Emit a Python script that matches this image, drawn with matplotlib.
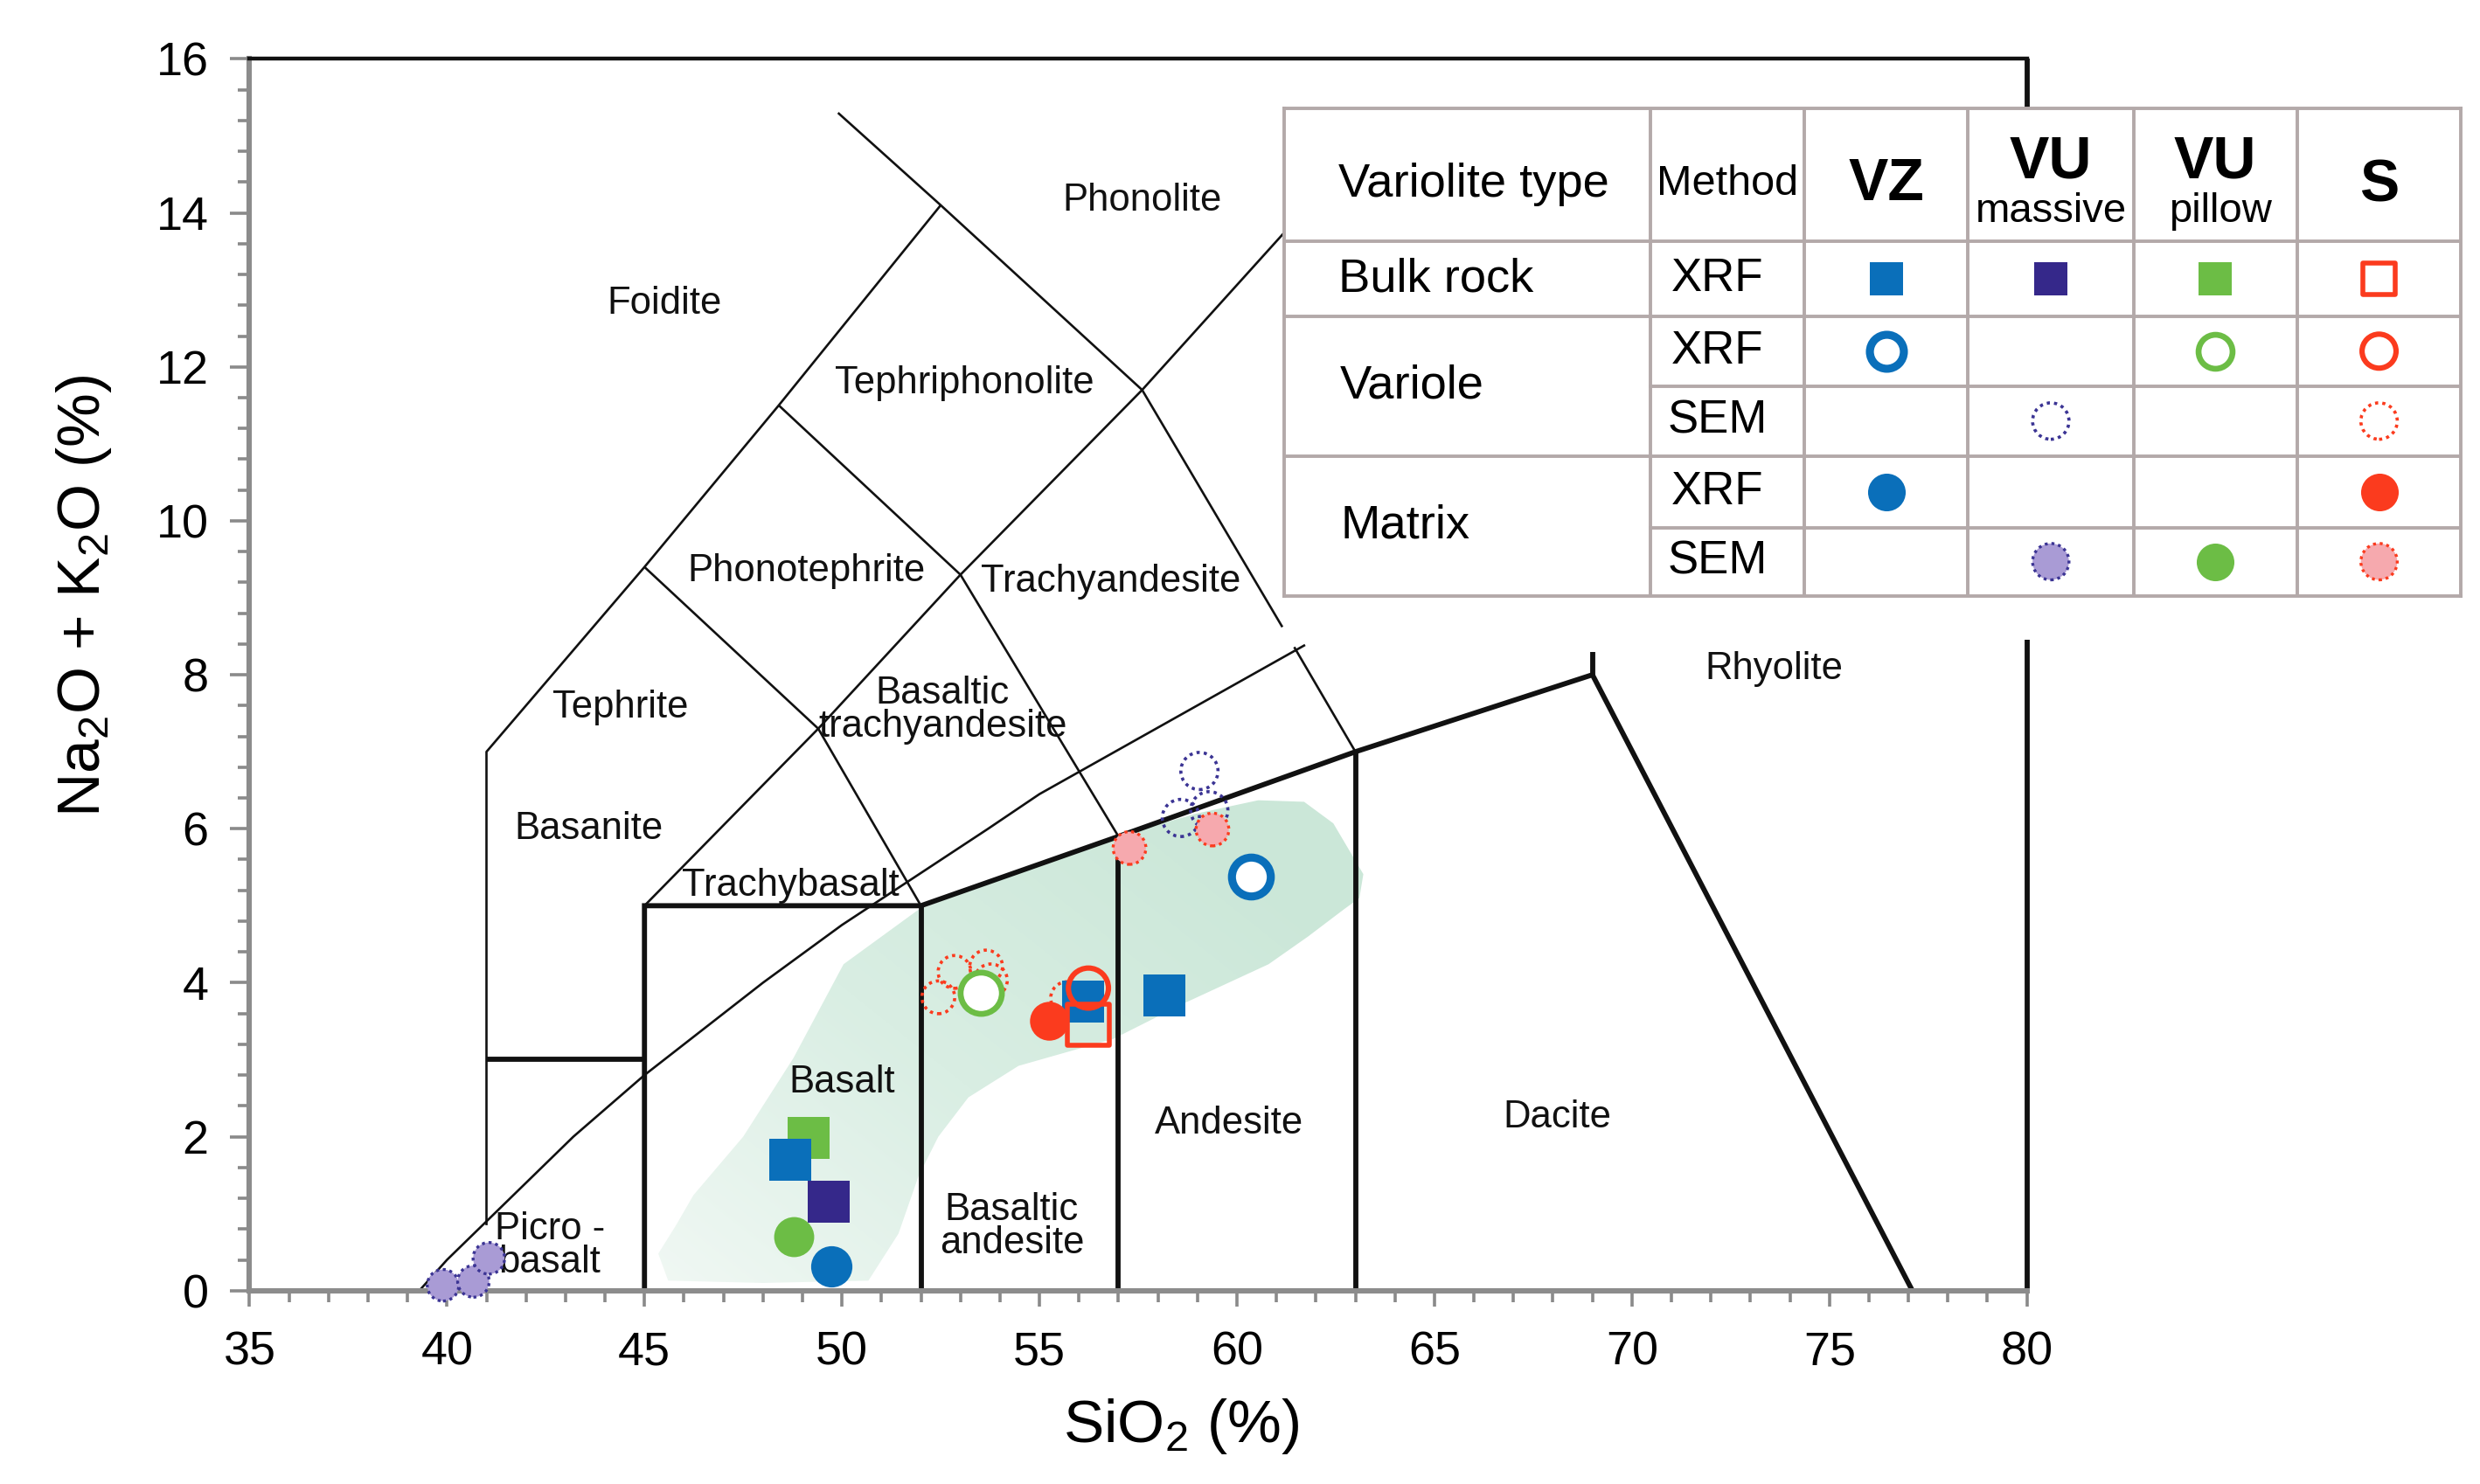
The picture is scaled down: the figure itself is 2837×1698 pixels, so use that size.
import numpy as np
import matplotlib
matplotlib.use('Agg')
import matplotlib.pyplot as plt
from matplotlib.patches import Polygon
from matplotlib.colors import LinearSegmentedColormap
from matplotlib.ticker import MultipleLocator

plt.rcParams['font.family'] = ['Liberation Sans', 'DejaVu Sans']
plt.rcParams['mathtext.default'] = 'regular'

# ---- TAS field boundaries (SiO2 %, Na2O+K2O %) ----
thin_lines = [
    [(41, 0.85), (41, 7.0), (45, 9.4), (48.4, 11.5), (52.5, 14.1)],
    [(49.9, 15.3), (52.5, 14.1), (57.6, 11.7)],
    [(57.6, 11.7), (62.0, 14.2)],
    [(57.6, 11.7), (61.15, 8.62)],
    [(61.45, 8.36), (63, 7.0)],
    [(45, 9.4), (49.4, 7.3), (52, 5.0)],
    [(45, 5.0), (49.4, 7.3), (53, 9.3), (57.6, 11.7)],
    [(48.4, 11.5), (53, 9.3), (57, 5.9)],
]
thick_lines = [
    [(41, 3), (45, 3)],
    [(45, 0), (45, 5), (52, 5), (57, 5.9), (63, 7), (69, 8), (77.1, 0)],
    [(52, 0), (52, 5)],
    [(57, 0), (57, 5.9)],
    [(63, 0), (63, 7)],
    [(69, 8), (69, 8.3)],
    [(80, 0), (80, 8.45)],
    [(80, 14.5), (80, 16)],
]
# alkaline / subalkaline divide
ib_sio2 = [39.3, 40, 43.2, 45, 48, 50, 53.7, 55, 61.7]
ib_alk = [0, 0.4, 2.0, 2.8, 4.0, 4.75, 6.0, 6.45, 8.38]

field_names = ['Foidite', 'Phonolite', 'Tephriphonolite', 'Phonotephrite', 'Trachyandesite',
               'Tephrite', 'Basaltic\ntrachyandesite', 'Basanite', 'Trachybasalt', 'Rhyolite',
               'Basalt', 'Andesite', 'Dacite', 'Basaltic\nandesite', 'Picro -\nbasalt']
field_pos = [(45.5, 12.82), (57.6, 14.16), (53.1, 11.79), (49.1, 9.35), (56.8, 9.21),
             (44.4, 7.57), (52.55, 7.54), (43.6, 6.0), (48.7, 5.26), (73.6, 8.07),
             (50.0, 2.70), (59.8, 2.17), (68.1, 2.25), (54.3, 0.83), (42.6, 0.58)]

# shaded field of the samples
blob_sio2 = [51.94, 54.5, 57.0, 59.0, 60.54, 61.7, 62.44, 63.2, 63.1, 62.7, 61.8, 60.8, 58.65,
             56.87, 54.47, 53.2, 52.44, 51.94, 51.43, 50.67, 48.0, 45.6, 45.35, 45.8, 46.24,
             47.5, 48.77, 50.04]
blob_alk = [4.95, 5.45, 5.91, 6.2, 6.37, 6.35, 6.07, 5.41, 5.1, 4.95, 4.6, 4.24, 3.73,
            3.27, 2.92, 2.51, 2.0, 1.49, 0.74, 0.13, 0.1, 0.13, 0.48, 0.85, 1.24,
            2.0, 3.02, 4.24]

# ---- samples ----
bulk_vz_x, bulk_vz_y = [58.17, 56.1, 48.7], [3.83, 3.75, 1.70]
bulk_vum_x, bulk_vum_y = [49.66], [1.15]
bulk_vup_x, bulk_vup_y = [49.15], [1.98]
bulk_s_x, bulk_s_y = [56.24], [3.45]
var_xrf_vz_x, var_xrf_vz_y = [60.35], [5.38]
var_xrf_vup_x, var_xrf_vup_y = [53.52], [3.87]
var_xrf_s_x, var_xrf_s_y = [56.24], [3.93]
var_sem_vum_x, var_sem_vum_y = [59.05, 58.58, 59.3], [6.75, 6.14, 6.24]
var_sem_s_x, var_sem_s_y = [52.44, 52.85, 53.65, 53.77, 55.7], [3.81, 4.14, 4.21, 4.03, 3.8]
mat_xrf_vz_x, mat_xrf_vz_y = [49.72], [0.31]
mat_xrf_s_x, mat_xrf_s_y = [55.25], [3.50]
mat_sem_vum_x, mat_sem_vum_y = [39.9, 40.67, 41.06], [0.07, 0.12, 0.42]
mat_sem_vup_x, mat_sem_vup_y = [48.77], [0.70]
mat_sem_s_x, mat_sem_s_y = [57.28, 59.38], [5.75, 5.99]

BLUE = '#0a6fba'
PURP = '#35288a'
GREEN = '#6cbd45'
RED = '#fb3b1e'
PINK = '#f6a9ae'
LPURP = '#a99bd5'
DOT = (0, (1, 1.3))

# (x, y, marker, size, face, edge, lw, ls, table row, table col, table size)
series = [
    (var_sem_s_x, var_sem_s_y, 'o', 13.5, 'none', RED, 1.3, DOT, 2, 3, 15),
    (bulk_vup_x, bulk_vup_y, 's', 17, GREEN, GREEN, 0, '-', 0, 2, 13.5),
    (bulk_vz_x, bulk_vz_y, 's', 17, BLUE, BLUE, 0, '-', 0, 0, 13.5),
    (bulk_vum_x, bulk_vum_y, 's', 17, PURP, PURP, 0, '-', 0, 1, 13.5),
    (mat_sem_vup_x, mat_sem_vup_y, 'o', 16.5, GREEN, GREEN, 0, '-', 4, 2, 15.5),
    (mat_xrf_vz_x, mat_xrf_vz_y, 'o', 17, BLUE, BLUE, 0, '-', 3, 0, 15.5),
    (mat_xrf_s_x, mat_xrf_s_y, 'o', 16, RED, RED, 0, '-', 3, 3, 15.5),
    (bulk_s_x, bulk_s_y, 's', 17, 'none', RED, 2.0, '-', 0, 3, 13),
    (var_xrf_s_x, var_xrf_s_y, 'o', 16.5, 'none', RED, 2.2, '-', 1, 3, 14),
    (var_xrf_vup_x, var_xrf_vup_y, 'o', 17, 'white', GREEN, 2.4, '-', 1, 2, 14),
    (var_sem_vum_x, var_sem_vum_y, 'o', 15.3, 'none', '#3b3494', 1.3, DOT, 2, 1, 15),
    (mat_sem_s_x, mat_sem_s_y, 'o', 13.5, PINK, RED, 1.2, DOT, 4, 3, 15),
    (var_xrf_vz_x, var_xrf_vz_y, 'o', 16, 'white', BLUE, 3.3, '-', 1, 0, 14),
    (mat_sem_vum_x, mat_sem_vum_y, 'o', 13, LPURP, '#3b3494', 1.2, DOT, 4, 1, 15),
]

fig = plt.figure(figsize=(2837 / 200, 1698 / 200), dpi=200)
ax = fig.add_axes([0.1006, 0.1303, 0.7167, 0.8300])
ax.set_xlim(35, 80)
ax.set_ylim(0, 16)

# shaded sample field with a soft gradient
blob = Polygon(np.column_stack([blob_sio2, blob_alk]), closed=True, facecolor='none',
               edgecolor='none')
ax.add_patch(blob)
gx, gy = np.meshgrid(np.linspace(0, 1, 200), np.linspace(0, 1, 100))
grad = np.clip(0.65 * gx + 0.55 * gy, 0, 1)
cmap = LinearSegmentedColormap.from_list('mint', ['#f1f8f4', '#d9eee3', '#cbe7d8'])
im = ax.imshow(grad, extent=(45, 64, 0, 6.6), origin='lower', cmap=cmap, aspect='auto',
               zorder=1, interpolation='bilinear')
im.set_clip_path(blob)

for seg in thin_lines:
    xs, ys = zip(*seg)
    ax.plot(xs, ys, color='#111111', lw=0.95, zorder=2, solid_capstyle='butt')
ax.plot(ib_sio2, ib_alk, color='#111111', lw=0.95, zorder=2)
for seg in thick_lines:
    xs, ys = zip(*seg)
    ax.plot(xs, ys, color='#111111', lw=2.1, zorder=2, clip_on=False,
            solid_joinstyle='miter', solid_capstyle='butt')

for name, (tx, ty) in zip(field_names, field_pos):
    ax.text(tx, ty, name, ha='center', va='center', fontsize=15.7, linespacing=0.92,
            color='#111111', zorder=3)

for (xs, ys, mk, sz, fc, ec, lw, ls, r, c, tsz) in series:
    ax.scatter(xs, ys, s=sz ** 2, marker=mk, facecolors=fc, edgecolors=ec, linewidths=lw,
               linestyle=ls, zorder=4, clip_on=False)

# axes styling
for side in ['left', 'bottom']:
    ax.spines[side].set_color('#8c8c8c')
    ax.spines[side].set_linewidth(2.2)
ax.spines['right'].set_visible(False)
ax.spines['top'].set_color('#111111')
ax.spines['top'].set_linewidth(1.6)
ax.xaxis.set_major_locator(MultipleLocator(5))
ax.xaxis.set_minor_locator(MultipleLocator(1))
ax.yaxis.set_major_locator(MultipleLocator(2))
ax.yaxis.set_minor_locator(MultipleLocator(0.4))
ax.tick_params(axis='x', which='major', direction='out', length=6.5, width=1.3,
               color='#8a8a8a', pad=10, labelsize=19.4)
ax.tick_params(axis='x', which='minor', direction='out', length=4.5, width=1.3, color='#8a8a8a')
ax.tick_params(axis='y', which='major', direction='out', length=7.9, width=1.3,
               color='#8a8a8a', pad=9, labelsize=19.4)
ax.tick_params(axis='y', which='minor', direction='out', length=4.6, width=1.3, color='#8a8a8a')

ax.set_xlabel('SiO$_2$ (%)', fontsize=25, va='center')
ax.xaxis.set_label_coords(0.524, -0.110)
ax.set_ylabel('Na$_2$O + K$_2$O (%)', fontsize=25, va='center')
ax.yaxis.set_label_coords(-0.093, 0.564)

# ---- legend table ----
col_edges = [0, 230, 327, 430, 534, 637, 740]
row_edges = [0, 84, 131, 175, 219, 264, 307]
tcolor = '#b3a9a9'
tab = fig.add_axes([0.51795, 0.5985, 0.47436, 0.32869])
tab.set_xlim(0, 740)
tab.set_ylim(307, 0)
tab.set_xticks([])
tab.set_yticks([])
tab.set_facecolor('white')
for sp in tab.spines.values():
    sp.set_color(tcolor)
    sp.set_linewidth(1.4)
for xe in col_edges[1:-1]:
    tab.plot([xe, xe], [0, 307], color=tcolor, lw=1.4)
for ye in [84, 131, 219]:
    tab.plot([0, 740], [ye, ye], color=tcolor, lw=1.4)
for ye in [175, 264]:
    tab.plot([230, 740], [ye, ye], color=tcolor, lw=1.4)

ccx = [(col_edges[i] + col_edges[i + 1]) / 2 for i in range(6)]
rcy = [(row_edges[i] + row_edges[i + 1]) / 2 for i in range(6)]

tab.text(34, 48, 'Variolite type', ha='left', va='center', fontsize=19.6)
tab.text(ccx[1], 48, 'Method', ha='center', va='center', fontsize=17.5)
tab.text(ccx[2], 48, 'VZ', ha='center', va='center', fontsize=24.5, fontweight='bold')
tab.text(ccx[3], 34, 'VU', ha='center', va='center', fontsize=24.5, fontweight='bold')
tab.text(ccx[3], 65, 'massive', ha='center', va='center', fontsize=17)
tab.text(ccx[4], 34, 'VU', ha='center', va='center', fontsize=24.5, fontweight='bold')
tab.text(ccx[4] + 3, 65, 'pillow', ha='center', va='center', fontsize=17)
tab.text(ccx[5], 49, 'S', ha='center', va='center', fontsize=24.5, fontweight='bold')
tab.text(34, rcy[1], 'Bulk rock', ha='left', va='center', fontsize=19.6)
tab.text(35, (131 + 219) / 2, 'Variole', ha='left', va='center', fontsize=19.6)
tab.text(35, (219 + 307) / 2, 'Matrix', ha='left', va='center', fontsize=19.6)
for r, meth in enumerate(['XRF', 'XRF', 'SEM', 'XRF', 'SEM']):
    tab.text(ccx[1] - 6, rcy[r + 1], meth, ha='center', va='center', fontsize=19)

for (xs, ys, mk, sz, fc, ec, lw, ls, r, c, tsz) in series:
    tab.scatter([ccx[c + 2]], [rcy[r + 1]], s=tsz ** 2, marker=mk, facecolors=fc,
                edgecolors=ec, linewidths=lw, linestyle=ls, zorder=4)

fig.savefig('out.png', dpi=200, facecolor='white')
